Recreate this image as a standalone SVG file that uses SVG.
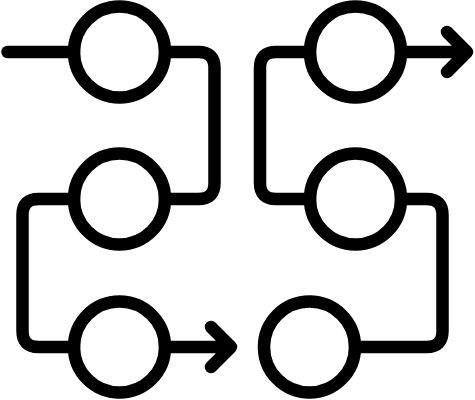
<svg xmlns="http://www.w3.org/2000/svg" width="475" height="400" viewBox="0 0 475 400">
<style>
.n{fill:none;stroke:#000;stroke-width:12.5}
.c{fill:none;stroke:#000;stroke-width:12.5;stroke-linecap:round;stroke-linejoin:round}
</style>
<rect width="475" height="400" fill="#fff"/>
<g id="connectors">
<path class="c" d="M7.5 52H74"/>
<path class="c" d="M165 52H198.5Q214.5 52 214.5 68V183Q214.5 199 198.5 199H165"/>
<path class="c" d="M74 199H38.5Q22.5 199 22.5 215V331Q22.5 347 38.5 347H74"/>
<path class="c" d="M165 347H231M211 327L231 347L211 367"/>
<path class="c" d="M310 199H276Q260 199 260 183V68Q260 52 276 52H310"/>
<path class="c" d="M401 52H467M447 32L467 52L447 72"/>
<path class="c" d="M401 199H426.5Q442.5 199 442.5 215V331Q442.5 347 426.5 347H355"/>
</g>
<g id="node1"><circle class="n" cx="119.5" cy="52" r="45.5"/></g>
<g id="node2"><circle class="n" cx="119.5" cy="199" r="45.5"/></g>
<g id="node3"><circle class="n" cx="119.5" cy="347" r="45.5"/></g>
<g id="node4"><circle class="n" cx="355.5" cy="52" r="45.5"/></g>
<g id="node5"><circle class="n" cx="355.5" cy="199" r="45.5"/></g>
<g id="node6"><circle class="n" cx="309.5" cy="347" r="45.5"/></g>
</svg>
